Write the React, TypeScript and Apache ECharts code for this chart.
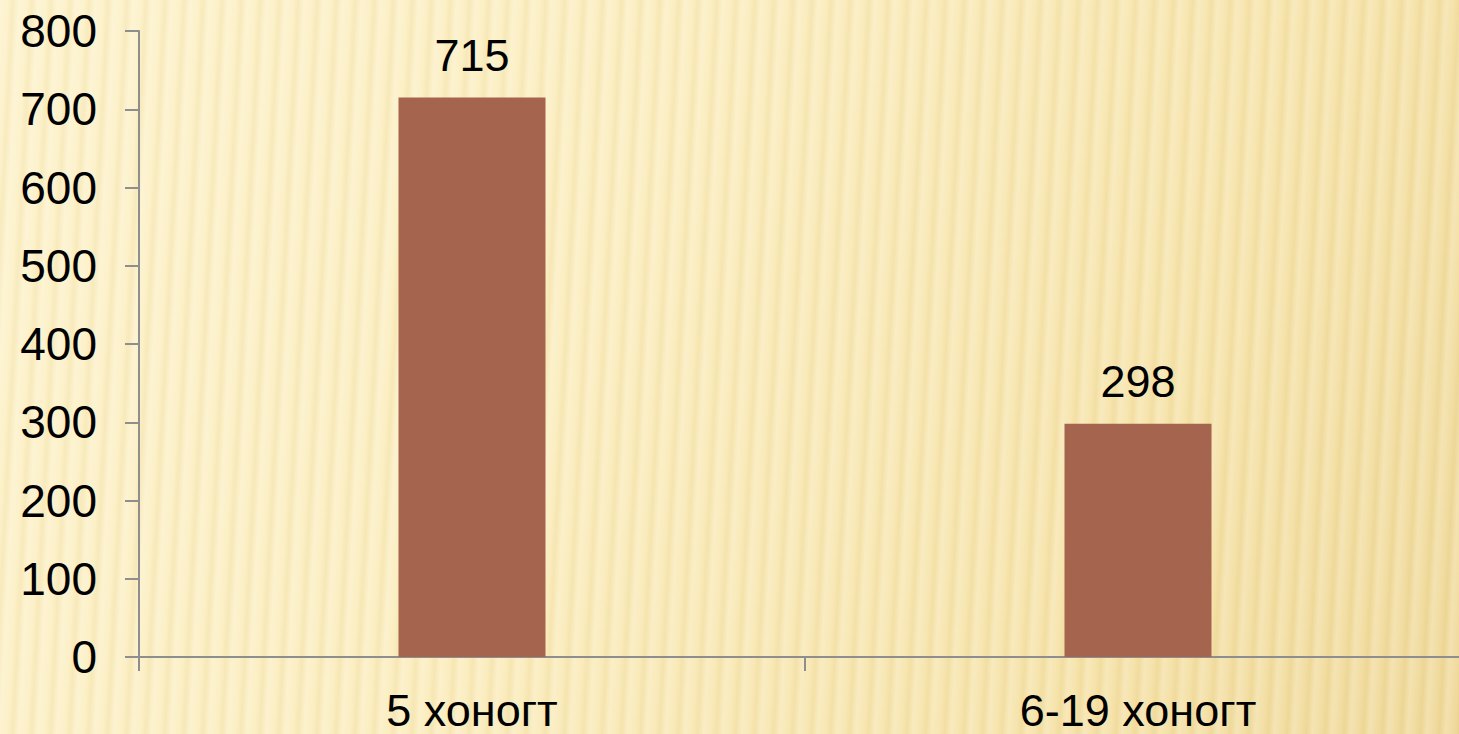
import React, { useEffect, useRef } from "react";
import * as echarts from "echarts";

const categories = ["5 хоногт", "6-19 хоногт"];
const values = [715, 298];
const yMin = 0;
const yMax = 800;
const yInterval = 100;

export default function App() {
  const ref = useRef<HTMLDivElement>(null);
  useEffect(() => {
    document.documentElement.style.overflow = "hidden";
    document.body.style.overflow = "hidden";
    document.body.style.margin = "0";
    if (!ref.current) return;
    const chart = echarts.init(ref.current, undefined, { renderer: "svg" });
    const font = "'Liberation Sans', Arial, sans-serif";
    chart.setOption({
      animation: false,
      grid: { left: 139, top: 31, bottom: 77, right: 0, containLabel: false },
      xAxis: {
        type: "category",
        data: categories,
        axisLine: { lineStyle: { color: "#8E8E8E", width: 2 } },
        axisTick: { show: true, length: 14, lineStyle: { color: "#8E8E8E", width: 2 } },
        axisLabel: {
          color: "#000",
          fontSize: 45,
          fontFamily: font,
          margin: 30,
          lineHeight: 46,
        },
        splitLine: { show: false },
      },
      yAxis: {
        type: "value",
        min: yMin,
        max: yMax,
        interval: yInterval,
        axisLine: { show: true, lineStyle: { color: "#8E8E8E", width: 2 } },
        axisTick: { show: true, length: 14, lineStyle: { color: "#8E8E8E", width: 2 } },
        axisLabel: {
          color: "#000",
          fontSize: 46,
          fontFamily: font,
          margin: 42,
        },
        splitLine: { show: false },
      },
      series: [
        {
          type: "bar",
          data: values,
          barWidth: 147,
          itemStyle: { color: "#A5644E" },
          label: {
            show: true,
            position: "top",
            distance: 20,
            color: "#000",
            fontSize: 45,
            fontFamily: font,
          },
        },
      ],
    });
    return () => chart.dispose();
  }, []);
  return (
    <div
      ref={ref}
      style={{
        position: "fixed",
        left: 0,
        top: 0,
        width: 1471,
        height: 734,
        background:
          "repeating-linear-gradient(93deg, rgba(255,255,255,0.22) 0px, rgba(255,255,255,0.05) 8px, rgba(205,175,90,0.10) 13px, rgba(255,255,255,0.22) 19px), linear-gradient(115deg, #FDF2CB 0%, #FBEDBE 40%, #F6E3A9 75%, #EFD898 100%)",
      }}
    />
  );
}
